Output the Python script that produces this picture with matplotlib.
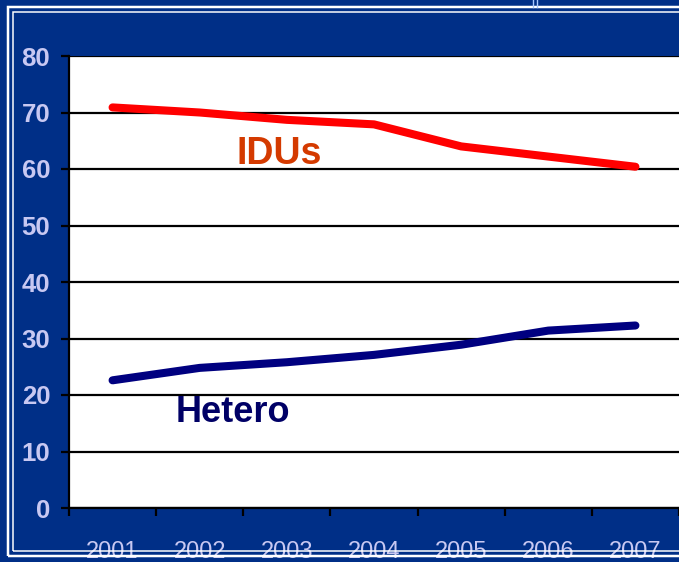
import matplotlib
matplotlib.use("Agg")
import matplotlib.pyplot as plt
from matplotlib.patches import Rectangle

years = ['2001', '2002', '2003', '2004', '2005', '2006', '2007']
idus = [70.9, 70.0, 68.7, 67.9, 64.0, 62.2, 60.4]
hetero = [22.6, 24.8, 25.8, 27.1, 28.9, 31.4, 32.3]
y_ticks = [0, 10, 20, 30, 40, 50, 60, 70, 80]

bg = '#002f87'
lav = '#c8c8f2'
W, H = 679, 562

plt.rcParams['font.family'] = ['Liberation Sans', 'DejaVu Sans']

fig = plt.figure(figsize=(W / 100, H / 100), dpi=100)
fig.patch.set_facecolor(bg)

# double white frame round the slide
for x0, y0, y1, lw in [(7.5, 6.5, 556, 2.5), (12.5, 12, 550.5, 1.5)]:
    fig.add_artist(Rectangle((x0 / W, 1 - y1 / H), 1.2, (y1 - y0) / H,
                             transform=fig.transFigure, fill=False,
                             edgecolor='white', linewidth=lw * 0.72))
# small mark at the top
for xm in (533, 537):
    fig.add_artist(plt.Line2D([xm / W, xm / W], [1, 1 - 7 / H],
                              transform=fig.transFigure, color='#a8c8ff', lw=1))

ax = fig.add_axes([69 / W, 54 / H, 1 - 69 / W, 452 / H])
ax.set_facecolor('white')

x = list(range(len(years)))
ax.plot(x, idus, color='#ff0000', lw=5.8, solid_capstyle='round', solid_joinstyle='round', zorder=3)
ax.plot(x, hetero, color='#000080', lw=5.8, solid_capstyle='round', solid_joinstyle='round', zorder=3)

ax.text(1.91, 62.7, 'IDUs', color='#d43a00', fontsize=27, fontweight='bold', ha='center', va='center')
ax.text(1.38, 16.9, 'Hetero', color='#000066', fontsize=26, fontweight='bold', ha='center', va='center')

ax.set_xlim(-0.5, 6.5)
ax.set_ylim(0, 80)
ax.set_yticks(y_ticks)
ax.set_yticklabels([str(t) for t in y_ticks])
ax.yaxis.grid(True, color='black', lw=1.6)
ax.set_axisbelow(True)

ax.set_xticks(x)
ax.set_xticklabels(years)
ax.set_xticks([i - 0.5 for i in range(len(years) + 1)], minor=True)
ax.tick_params(axis='x', which='major', length=0, pad=24, labelsize=17, labelcolor=lav)
ax.tick_params(axis='x', which='minor', length=6, width=1.6, color='black', direction='out')
ax.tick_params(axis='y', length=5.5, width=1.6, color='black', pad=8, labelsize=18.5, labelcolor=lav)
for lbl in ax.get_yticklabels():
    lbl.set_fontweight('bold')

for side in ['top', 'right']:
    ax.spines[side].set_visible(False)
ax.spines['left'].set_linewidth(1.6)
ax.spines['bottom'].set_linewidth(1.6)

fig.savefig('out.png', dpi=100, facecolor=bg)
